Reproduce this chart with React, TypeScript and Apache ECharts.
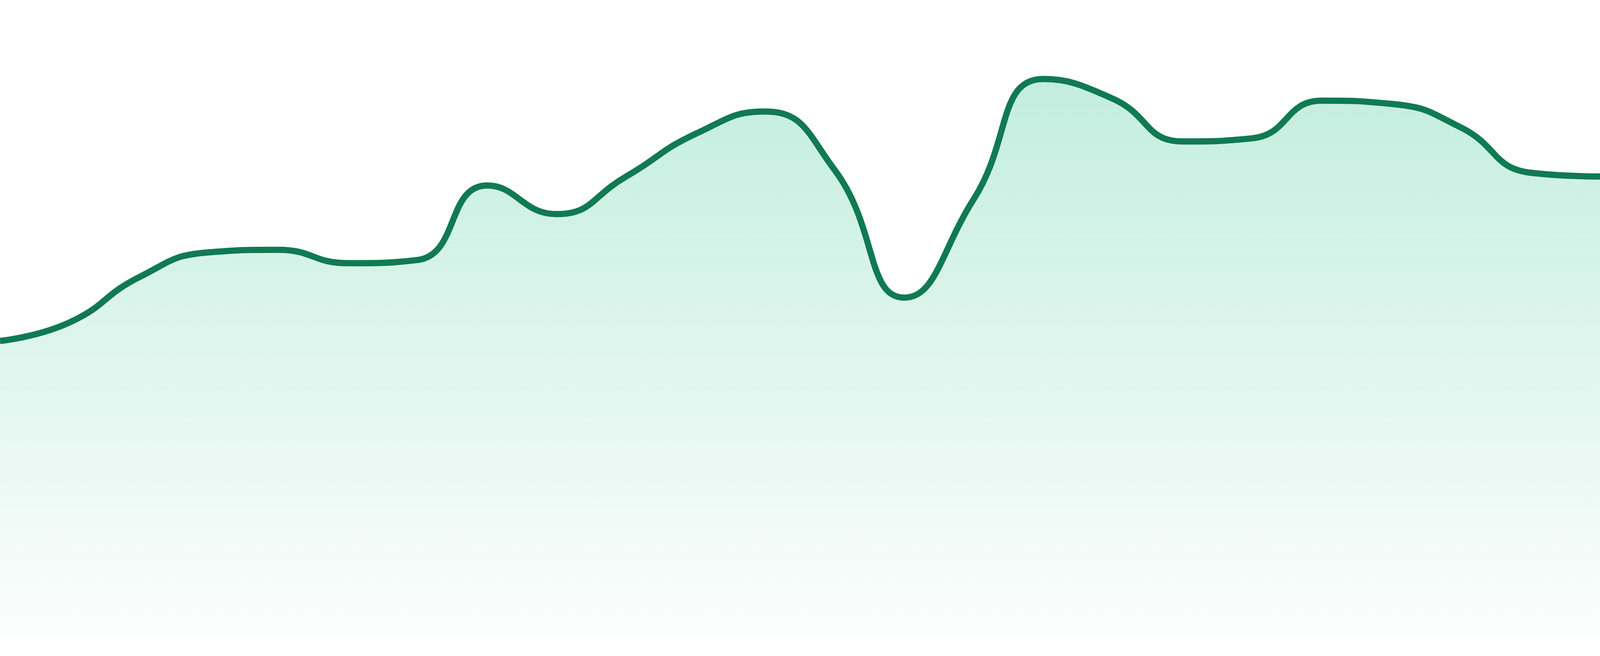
import { useEffect, useRef } from "react";
import * as echarts from "echarts";

// 24 hourly points, no visible axes
const hours = [
  "00:00", "01:00", "02:00", "03:00", "04:00", "05:00", "06:00", "07:00",
  "08:00", "09:00", "10:00", "11:00", "12:00", "13:00", "14:00", "15:00",
  "16:00", "17:00", "18:00", "19:00", "20:00", "21:00", "22:00", "23:00",
];

const values = [
  46.5, 49.4, 56.5, 60.4, 60.8, 58.7, 59.2, 70.9,
  66.4, 72.3, 79.0, 82.5, 73.3, 53.3, 68.8, 87.6,
  84.5, 77.8, 78.3, 84.2, 83.7, 80.0, 72.9, 72.3,
];

const yMin = 0;
const yMax = 100;

export default function App() {
  const chartRef = useRef<HTMLDivElement>(null);

  useEffect(() => {
    if (!chartRef.current) return;
    const chart = echarts.init(chartRef.current, null, { renderer: "svg" });

    const option: echarts.EChartsOption = {
      animation: false,
      grid: { top: 0, bottom: 48, left: 0, right: 0 },
      xAxis: {
        type: "category",
        data: hours,
        boundaryGap: false,
        show: false,
      },
      yAxis: {
        type: "value",
        min: yMin,
        max: yMax,
        show: false,
      },
      series: [
        {
          type: "line",
          data: values,
          smooth: true,
          showSymbol: false,
          lineStyle: { color: "#107a52", width: 16 },
          areaStyle: {
            color: new echarts.graphic.LinearGradient(0, 0, 0, 1, [
              { offset: 0, color: "rgba(16, 185, 129, 0.36)" },
              { offset: 1, color: "rgba(16, 185, 129, 0.02)" },
            ]),
          },
        },
      ],
    };

    chart.setOption(option);

    return () => {
      chart.dispose();
    };
  }, []);

  return (
    <div
      ref={chartRef}
      style={{ position: "fixed", left: 0, top: 0, width: "100vw", height: "100vh" }}
    />
  );
}
